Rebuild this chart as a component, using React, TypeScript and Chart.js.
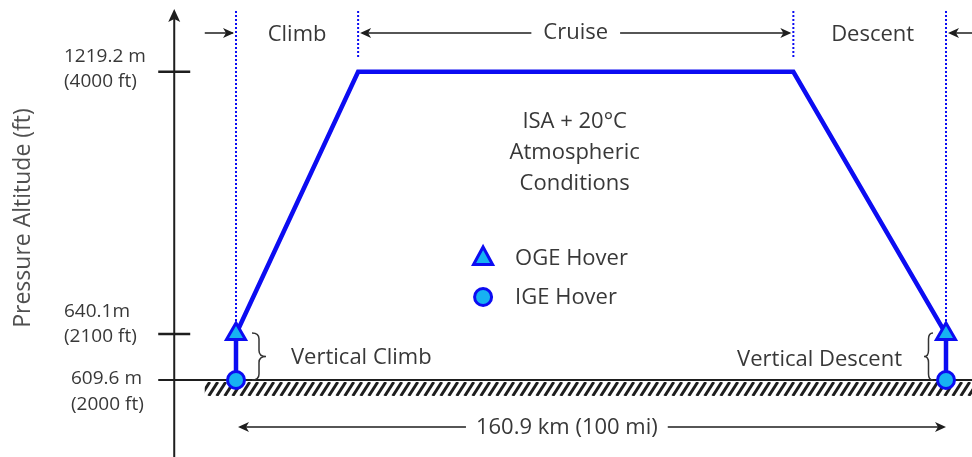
import React, { useEffect, useRef } from 'react';
import { Chart, registerables } from 'chart.js';
Chart.register(...registerables);

// Flight profile (schematic altitude levels: 0 = ground/IGE, 1 = OGE hover, 6.7 = cruise)
const profileDistanceMi = [0, 0, 17.2, 78.5, 100, 100];
const profileLevel = [0, 1, 6.7, 6.7, 1, 0];
const ogeDistanceMi = [0, 100];
const ogeLevel = [1, 1];
const igeDistanceMi = [0, 100];
const igeLevel = [0, 0];
const phaseBoundariesMi = [0, 17.2, 78.5, 100];
const phaseLabels = ['Climb', 'Cruise', 'Descent'];
const altitudeTickLevels = [6.7, 1, 0];
const altitudeTickMetric = ['1219.2 m', '640.1m', '609.6 m'];
const altitudeTickImperial = ['(4000 ft)', '(2100 ft)', '(2000 ft)'];
const conditionsLines = ['ISA + 20°C', 'Atmospheric', 'Conditions'];
const legendLabels = ['OGE Hover', 'IGE Hover'];
const rangeLabel = '160.9 km (100 mi)';
const yTitle = 'Pressure Altitude (ft)';
const verticalLabels = ['Vertical Climb', 'Vertical Descent'];

const BLUE = '#0c0cf2';
const CYAN = '#17b2f2';
const TEXT = '#383838';
const DARK = '#1e1e1e';
const FONT = '"Open Sans", sans-serif';

function arrowHead(ctx: CanvasRenderingContext2D, x: number, y: number, dir: number) {
  ctx.beginPath();
  ctx.moveTo(x, y);
  ctx.lineTo(x - dir * 11, y - 5);
  ctx.lineTo(x - dir * 8, y);
  ctx.lineTo(x - dir * 11, y + 5);
  ctx.closePath();
  ctx.fill();
}

function hLine(ctx: CanvasRenderingContext2D, x1: number, x2: number, y: number) {
  ctx.beginPath();
  ctx.moveTo(x1, y);
  ctx.lineTo(x2, y);
  ctx.stroke();
}

function brace(ctx: CanvasRenderingContext2D, x: number, yTop: number, yBot: number, dir: number, w: number) {
  const mid = (yTop + yBot) / 2;
  ctx.beginPath();
  ctx.moveTo(x, yTop);
  ctx.quadraticCurveTo(x + dir * w, yTop, x + dir * w, yTop + 6);
  ctx.lineTo(x + dir * w, mid - 6);
  ctx.quadraticCurveTo(x + dir * w, mid, x + dir * 2 * w, mid);
  ctx.quadraticCurveTo(x + dir * w, mid, x + dir * w, mid + 6);
  ctx.lineTo(x + dir * w, yBot - 6);
  ctx.quadraticCurveTo(x + dir * w, yBot, x, yBot);
  ctx.stroke();
}

const diagramPlugin = {
  id: 'diagram',
  beforeDatasetsDraw(chart: any) {
    const ctx: CanvasRenderingContext2D = chart.ctx;
    const X = (v: number) => chart.scales.x.getPixelForValue(v);
    const Y = (v: number) => chart.scales.y.getPixelForValue(v);
    const W = chart.width;
    const H = chart.height;
    const bx = phaseBoundariesMi.map(X);
    const yG = Y(0);
    const yH = Y(1);
    const axisX = X(-8.7);
    ctx.save();

    // hatching below ground
    ctx.save();
    ctx.beginPath();
    ctx.rect(X(-4.4), yG + 2, W - X(-4.4), 14);
    ctx.clip();
    ctx.strokeStyle = DARK;
    ctx.lineWidth = 3;
    for (let x = X(-4.4) - 20; x < W + 20; x += 8) {
      ctx.beginPath();
      ctx.moveTo(x, yG + 16);
      ctx.lineTo(x + 9, yG + 2);
      ctx.stroke();
    }
    ctx.restore();

    // y axis
    ctx.strokeStyle = DARK;
    ctx.fillStyle = DARK;
    ctx.lineWidth = 2;
    ctx.beginPath();
    ctx.moveTo(axisX, H);
    ctx.lineTo(axisX, 18);
    ctx.stroke();
    ctx.beginPath();
    ctx.moveTo(axisX, 9);
    ctx.lineTo(axisX - 6, 22);
    ctx.lineTo(axisX, 19);
    ctx.lineTo(axisX + 6, 22);
    ctx.closePath();
    ctx.fill();

    // ticks
    ctx.lineWidth = 2.5;
    altitudeTickLevels.forEach((lv) => {
      if (lv > 0) hLine(ctx, axisX - 16, axisX + 16, Y(lv));
    });
    // ground line
    ctx.lineWidth = 2;
    hLine(ctx, axisX - 16, W, yG);

    // tick labels
    ctx.fillStyle = TEXT;
    ctx.font = `19px ${FONT}`;
    ctx.textAlign = 'left';
    ctx.textBaseline = 'middle';
    const labelX = [64, 64, 71];
    const metricDy = [-15, -22, -1];
    const impDy = [10, 3, 25];
    altitudeTickLevels.forEach((lv, i) => {
      ctx.fillText(altitudeTickMetric[i], labelX[i], Y(lv) + metricDy[i]);
      ctx.fillText(altitudeTickImperial[i], labelX[i], Y(lv) + impDy[i]);
    });

    // y title
    ctx.save();
    ctx.translate(23, 218);
    ctx.rotate(-Math.PI / 2);
    ctx.textAlign = 'center';
    ctx.font = `23px ${FONT}`;
    ctx.fillStyle = '#505050';
    ctx.fillText(yTitle, 0, 0);
    ctx.restore();

    // dotted phase boundaries
    ctx.save();
    ctx.strokeStyle = BLUE;
    ctx.lineWidth = 2;
    ctx.setLineDash([2, 2]);
    bx.forEach((x, i) => {
      const full = i === 0 || i === bx.length - 1;
      ctx.beginPath();
      ctx.moveTo(x, 11);
      ctx.lineTo(x, full ? yH - 12 : 57);
      ctx.stroke();
    });
    ctx.restore();

    // phase labels and arrows
    const yA = 33;
    ctx.font = `22px ${FONT}`;
    ctx.textAlign = 'center';
    ctx.fillStyle = TEXT;
    ctx.strokeStyle = DARK;
    ctx.lineWidth = 1.5;
    const climbC = (bx[0] + bx[1]) / 2;
    const cruiseC = (bx[1] + bx[2]) / 2;
    const descC = (bx[2] + bx[3]) / 2 + 3;
    ctx.fillText(phaseLabels[0], climbC, yA + 2);
    ctx.fillText(phaseLabels[1], cruiseC, yA);
    ctx.fillText(phaseLabels[2], descC, yA + 2);
    ctx.fillStyle = DARK;
    hLine(ctx, X(-4.4), bx[0] - 3, yA);
    arrowHead(ctx, bx[0] - 2, yA, 1);
    const cw = ctx.measureText(phaseLabels[1]).width / 2 + 12;
    hLine(ctx, bx[1] + 4, cruiseC - cw, yA);
    arrowHead(ctx, bx[1] + 2, yA, -1);
    hLine(ctx, cruiseC + cw, bx[2] - 4, yA);
    arrowHead(ctx, bx[2] - 2, yA, 1);
    hLine(ctx, bx[3] + 4, W, yA);
    arrowHead(ctx, bx[3] + 2, yA, -1);

    // range arrow
    const yR = 427;
    const rc = X(46.6);
    ctx.fillStyle = TEXT;
    ctx.fillText(rangeLabel, rc, yR + 1);
    const rw = ctx.measureText(rangeLabel).width / 2 + 10;
    ctx.fillStyle = DARK;
    hLine(ctx, bx[0] + 4, rc - rw, yR);
    hLine(ctx, rc + rw, bx[3] - 4, yR);
    arrowHead(ctx, bx[0] + 2, yR, -1);
    arrowHead(ctx, bx[3], yR, 1);

    // braces and vertical labels
    ctx.strokeStyle = '#333';
    ctx.lineWidth = 1.5;
    brace(ctx, bx[0] + 16, yH - 1, yG, 1, 7);
    brace(ctx, bx[3] - 13, yH - 1, yG, -1, 4.5);
    ctx.fillStyle = TEXT;
    ctx.textAlign = 'left';
    ctx.fillText(verticalLabels[0], bx[0] + 55, (yH + yG) / 2 + 1);
    ctx.textAlign = 'right';
    ctx.fillText(verticalLabels[1], bx[3] - 44, (yH + yG) / 2 + 3);

    // conditions text
    ctx.textAlign = 'center';
    const condX = X(47.7);
    conditionsLines.forEach((t, i) => ctx.fillText(t, condX, 122 + i * 31));

    // legend
    const lx = X(34.8);
    const ly = [258, 297];
    ctx.lineWidth = 3;
    ctx.strokeStyle = BLUE;
    ctx.fillStyle = CYAN;
    const r = 11;
    ctx.beginPath();
    ctx.moveTo(lx, ly[0] - r);
    ctx.lineTo(lx + r * 0.866, ly[0] + r * 0.5 + 1);
    ctx.lineTo(lx - r * 0.866, ly[0] + r * 0.5 + 1);
    ctx.closePath();
    ctx.fill();
    ctx.stroke();
    ctx.beginPath();
    ctx.arc(lx, ly[1], 8.5, 0, Math.PI * 2);
    ctx.fill();
    ctx.stroke();
    ctx.fillStyle = TEXT;
    ctx.textAlign = 'left';
    legendLabels.forEach((t, i) => ctx.fillText(t, lx + 32, ly[i] + 1));

    ctx.restore();
  },
};

export default function App() {
  const ref = useRef<HTMLCanvasElement | null>(null);
  useEffect(() => {
    if (!ref.current) return;
    const chart = new Chart(ref.current, {
      type: 'scatter',
      data: {
        datasets: [
          {
            label: 'IGE Hover',
            data: igeDistanceMi.map((x, i) => ({ x, y: igeLevel[i] })),
            pointStyle: 'circle',
            pointRadius: 8.5,
            pointBorderWidth: 3,
            pointBackgroundColor: CYAN,
            pointBorderColor: BLUE,
            showLine: false,
            order: 0,
          },
          {
            label: 'OGE Hover',
            data: ogeDistanceMi.map((x, i) => ({ x, y: ogeLevel[i] })),
            pointStyle: 'triangle',
            pointRadius: 11,
            pointBorderWidth: 3,
            pointBackgroundColor: CYAN,
            pointBorderColor: BLUE,
            showLine: false,
            order: 1,
          },
          {
            label: 'Profile',
            data: profileDistanceMi.map((x, i) => ({ x, y: profileLevel[i] })),
            showLine: true,
            borderColor: BLUE,
            borderWidth: 4.5,
            pointRadius: 0,
            fill: false,
            tension: 0,
            order: 2,
          },
        ],
      },
      options: {
        animation: false,
        responsive: false,
        layout: { padding: 0, autoPadding: false },
        plugins: { legend: { display: false }, tooltip: { enabled: false }, title: { display: false } },
        scales: {
          x: { type: 'linear', display: false, min: -236 / 7.1, max: (972 - 236) / 7.1 },
          y: { type: 'linear', display: false, min: -77 / 46, max: 380 / 46 },
        },
      },
      plugins: [diagramPlugin],
    });
    return () => chart.destroy();
  }, []);
  return (
    <div style={{ position: 'absolute', left: 0, top: 0, width: 972, height: 457, background: '#fff' }}>
      <canvas ref={ref} width={972} height={457} style={{ display: 'block', width: 972, height: 457 }} />
    </div>
  );
}
